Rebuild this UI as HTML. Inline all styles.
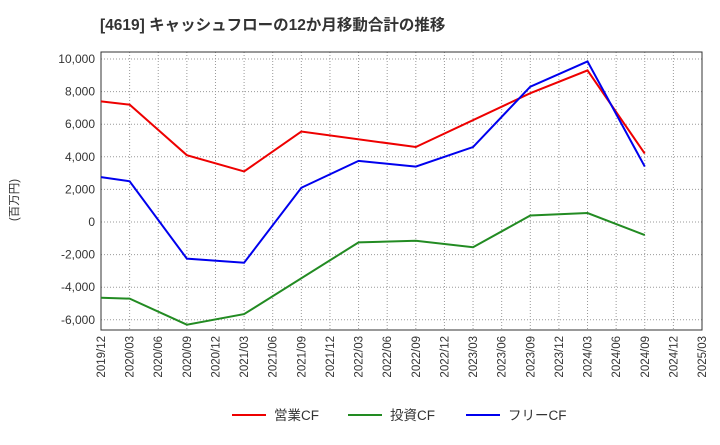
<!DOCTYPE html>
<html><head><meta charset="utf-8"><style>
body{margin:0;background:#fff;font-family:"Liberation Sans","Noto Sans CJK JP",sans-serif;}
</style></head><body>
<svg id="c" width="720" height="440" xmlns="http://www.w3.org/2000/svg" font-family="Liberation Sans, Noto Sans CJK JP, sans-serif"></svg>
<script>
const xLabels=["2019/12","2020/03","2020/06","2020/09","2020/12","2021/03","2021/06","2021/09","2021/12","2022/03","2022/06","2022/09","2022/12","2023/03","2023/06","2023/09","2023/12","2024/03","2024/06","2024/09","2024/12","2025/03"];
const yTicks=[-6000,-4000,-2000,0,2000,4000,6000,8000,10000];
const opIdx=[0,1,3,5,7,11,15,17,19];
const opVals=[7400,7200,4100,3100,5550,4600,7900,9300,4200];
const invIdx=[0,1,3,5,9,11,13,15,17,19];
const invVals=[-4650,-4700,-6300,-5650,-1250,-1150,-1550,400,550,-800];
const freeIdx=[0,1,3,5,7,9,11,13,15,17,19];
const freeVals=[2750,2500,-2250,-2500,2100,3750,3400,4600,8300,9850,3400];
const svg=document.getElementById('c');const NS="http://www.w3.org/2000/svg";
const L=101,R=702,T=52,B=330;
const x=i=>L+i*(R-L)/21;const y=v=>222-v*0.0163;
function add(tag,a,txt){const e=document.createElementNS(NS,tag);for(const k in a)e.setAttribute(k,a[k]);if(txt!=null)e.textContent=txt;svg.appendChild(e);return e;}
let t=add('text',{x:100,y:30,'font-size':15.5,'font-weight':'bold',fill:'#333'},'[4619]  キャッシュフローの12か月移動合計の推移');

xLabels.forEach((l,i)=>{let g=add('line',{x1:x(i),x2:x(i),y1:T,y2:B,stroke:'#999','stroke-dasharray':'1,2'});
let tx=add('text',{transform:`translate(${x(i)+4},${B+6}) rotate(-90)`,'font-size':11.5,fill:'#333','text-anchor':'end'},l);});
yTicks.forEach(v=>{let g=add('line',{x1:L,x2:R,y1:y(v),y2:y(v),stroke:'#999','stroke-dasharray':'1,2'});
let tx=add('text',{x:L-6,y:y(v)+4,'font-size':12,fill:'#333','text-anchor':'end'},v.toLocaleString('en-US'));});
let bd=add('rect',{x:L,y:T,width:R-L,height:B-T,fill:'none',stroke:'#333'});
let yt=add('text',{transform:'translate(18,200) rotate(-90)','font-size':11.5,fill:'#333','text-anchor':'middle'},'(百万円)');
function series(idx,vals,col,name){let p=add('polyline',{points:idx.map((i,k)=>x(i)+','+y(vals[k])).join(' '),fill:'none',stroke:col,'stroke-width':2});}
series(opIdx,opVals,'#e00','operating-cf-line');series(invIdx,invVals,'#228b22','investing-cf-line');series(freeIdx,freeVals,'#00e','free-cf-line');
[['営業CF','#e00',232],['投資CF','#228b22',348],['フリーCF','#00e',466]].forEach(([n,c,lx])=>{let l=add('line',{x1:lx,x2:lx+34,y1:415,y2:415,stroke:c,'stroke-width':2});
let tx=add('text',{x:lx+42,y:420,'font-size':13.5,fill:'#333'},n);});
</script></body></html>
